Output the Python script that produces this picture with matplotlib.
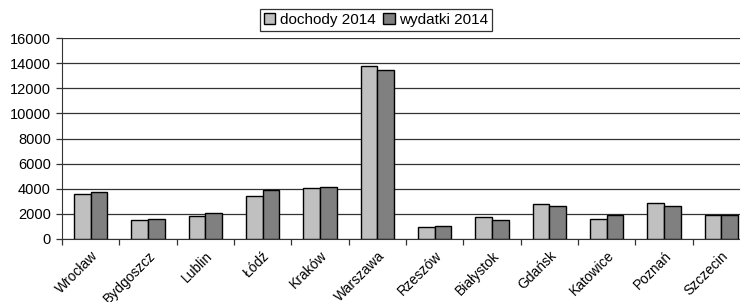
import matplotlib
matplotlib.use("Agg")
import matplotlib.pyplot as plt
import numpy as np

cities = ["Wrocław", "Bydgoszcz", "Lublin", "Łódź", "Kraków", "Warszawa",
          "Rzeszów", "Białystok", "Gdańsk", "Katowice", "Poznań", "Szczecin"]
dochody = [3570, 1520, 1840, 3410, 4030, 13790, 940, 1730, 2770, 1600, 2850, 1920]
wydatki = [3740, 1600, 2080, 3890, 4130, 13470, 1040, 1520, 2610, 1920, 2610, 1920]
yticks = [0, 2000, 4000, 6000, 8000, 10000, 12000, 14000, 16000]

plt.rcParams['font.family'] = ['Liberation Sans', 'DejaVu Sans']

fig = plt.figure(figsize=(7.4, 3.02), dpi=100)
W, H = 740, 302
left, right, top, bottom = 62, 750, 38, 239
ax = fig.add_axes([left / W, 1 - bottom / H, (right - left) / W, (bottom - top) / H])

x = np.arange(len(cities))
bw = 0.29
ax.bar(x - bw / 2, dochody, bw, color="#c0c0c0", edgecolor="black", linewidth=1.0,
       label="dochody 2014", zorder=3)
ax.bar(x + bw / 2, wydatki, bw, color="#808080", edgecolor="black", linewidth=1.0,
       label="wydatki 2014", zorder=3)

ax.set_xlim(-0.5, len(cities) - 0.5)
ax.set_ylim(0, 16000)
ax.set_yticks(yticks)
ax.set_yticklabels([str(v) for v in yticks], fontsize=10.5)
ax.yaxis.grid(True, color="#333333", linewidth=0.9, zorder=0)
ax.set_axisbelow(True)

ax.set_xticks(np.arange(len(cities) + 1) - 0.5)
ax.set_xticklabels([])
ax.set_xticks(x, minor=True)
ax.set_xticklabels(cities, minor=True, rotation=45, ha="right",
                   rotation_mode="anchor", fontsize=10)
ax.tick_params(axis="x", which="minor", length=0, pad=7)
ax.tick_params(axis="x", which="major", length=4, width=0.9, direction="out", color="#333333")
ax.tick_params(axis="y", length=4, width=0.9, direction="out", color="#333333", pad=4)

for s in ["top", "right"]:
    ax.spines[s].set_visible(False)
ax.spines["left"].set_color("#333333")
ax.spines["bottom"].set_color("#333333")

leg = fig.legend(loc="center", bbox_to_anchor=(376 / W, 1 - 20 / H), ncol=2,
                 fontsize=11, frameon=True, fancybox=False, edgecolor="black",
                 handlelength=0.75, handleheight=0.75, handletextpad=0.3,
                 columnspacing=0.5, borderpad=0.25, borderaxespad=0)
leg.get_frame().set_linewidth(0.9)

fig.savefig("out.png", dpi=100, facecolor="white")
